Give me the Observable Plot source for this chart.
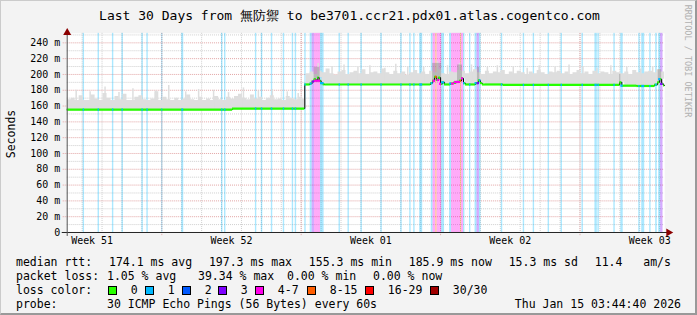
<!DOCTYPE html>
<html><head><meta charset="utf-8">
<script src="https://cdn.jsdelivr.net/npm/d3@7"></script>
<script src="https://cdn.jsdelivr.net/npm/@observablehq/plot@0.6"></script>
<style>
html,body{margin:0;padding:0;background:#fff}
#wrap{position:relative;width:697px;height:315px;background:#f3f3f3;box-sizing:border-box;border-style:solid;border-width:1px 2px 2px 1px;border-color:#cbcbcb #999 #999 #cbcbcb;overflow:hidden;font-family:"DejaVu Sans Mono",monospace;color:#000}
#wrap svg{position:absolute;left:-1px;top:-1px}
.t{position:absolute;white-space:pre;font-size:11.5px;line-height:14px}
#title{position:absolute;left:0;top:6px;width:697px;text-align:center;font-size:13px;white-space:pre}
#ylab{position:absolute;left:10px;top:133px;font-size:11.5px;transform:translate(-50%,-50%) rotate(-90deg);white-space:pre}
#rrd{position:absolute;left:687px;top:60px;font-size:8.5px;color:#b0b0b0;transform:translate(-50%,-50%) rotate(90deg);white-space:pre}
#l1{position:absolute;left:15px;width:655px;top:254px;display:flex;justify-content:space-between;font-size:11.5px;white-space:pre}
.sw{display:inline-block;width:7px;height:7px;border:1px solid #000;vertical-align:-1px}
</style></head>
<body><div id="wrap">
<div id="title">Last 30 Days from 無防禦 to be3701.ccr21.pdx01.atlas.cogentco.com</div>
<div id="ylab">Seconds</div>
<div id="rrd">RRDTOOL / TOBI OETIKER</div>
</div>
<script>
// ---- data (x in days from left edge of the 30-day window, y in ms) ----
const lossColors = ["#26ff00","#00b8ff","#0059ff","#7e00ff","#ff00ea","#ff5e00","#ff0000","#a10000"];
const lossLabels = ["0","1","2","3","4-7","8-15","16-29","30/30"];
const weekLabels = ["Week 51","Week 52","Week 01","Week 02","Week 03"];
const weekCenters = [1.25, 8.25, 15.25, 22.25, 29.25];
const weekStarts = [4.75, 11.75, 18.75, 25.75];
const dayLines = d3.range(0.75, 30, 1);
const yMajor = [20,40,60,80,100,120,140,160,180,200,220,240];
const yMinor = [10,30,50,70,90,110,130,150,170,190,210,230,250];
const yTicks = [0,20,40,60,80,100,120,140,160,180,200,220,240];

// packet-loss stripes: start day, width (days), loss class index
const bandStart = [0.80,1.55,2.27,2.75,3.75,4.00,4.75,5.75,7.75,7.90,9.45,9.75,10.25,10.85,11.30,11.45,11.93,
  12.20,12.30,12.42,12.72,13.65,14.10,14.75,15.75,16.75,17.20,17.40,17.70,
  18.28,18.37,18.50,18.58,18.70,18.80,19.20,19.30,19.45,19.75,19.80,19.90,20.20,20.48,20.58,20.70,
  21.80,22.90,23.40,24.15,24.80,25.85,26.50,26.65,27.45,27.80,28.70,28.85,29.25,29.55,29.70,29.80];
const bandWidth = [0.07,0.07,0.07,0.07,0.07,0.07,0.05,0.10,0.07,0.07,0.07,0.07,0.07,0.07,0.07,0.07,0.07,
  0.10,0.12,0.30,0.18,0.07,0.07,0.07,0.07,0.07,0.07,0.07,0.15,
  0.09,0.13,0.08,0.12,0.10,0.15,0.10,0.15,0.30,0.05,0.10,0.07,0.07,0.10,0.12,0.08,
  0.07,0.07,0.07,0.07,0.07,0.07,0.12,0.07,0.07,0.12,0.07,0.15,0.07,0.08,0.10,0.12];
const bandLevel = [1,1,1,1,1,1,1,1,1,1,1,1,1,1,1,1,1,
  1,3,4,1,1,1,1,1,1,1,1,1,
  1,4,5,4,4,1,1,4,4,5,4,1,1,1,3,1,
  1,1,1,1,1,1,1,1,1,1,1,1,1,1,1,3];

// median rtt breakpoints (step-after)
const medDay = [0,8.30,11.93,12.20,12.30,12.40,12.50,12.58,12.65,12.75,12.85,12.95,
  18.25,18.35,18.45,18.55,18.65,18.75,18.85,18.95,19.25,19.40,19.55,19.70,19.80,19.90,20.00,
  20.50,20.65,20.75,20.85,21.90,27.75,27.85,28.60,29.50,29.65,29.75,29.85,29.95,30];
const medVal = [155.5,156.8,187.3,188.5,191,194,192,196,192,189,187.5,187.3,
  189,192,197,193,196,188,190,187.3,188.5,189.5,190.5,192,195,189,187.3,
  189,192.5,189,187.3,186.8,190,185.8,185.4,187,190,194,188,186,186];

// smoke (upper envelope of the individual pings), one value per 0.2 day
const smokeTop = [
 171,173,168,176,170,169,177,172,170,179,173,169,175,171,178,170,168,174,176,171,
 169,172,181,170,174,171,168,173,170,172,177,171,169,174,170,172,168,175,171,169,
 174,172,175,178,173,171,177,172,174,169,173,176,171,172,170,175,173,171,174,172,
 204,206,203,207,205,210,204,202,206,208,203,205,207,204,209,203,205,206,204,210,
 205,203,207,204,206,202,205,208,204,206,203,207,205,209,204,203,206,205,208,207,
 204,206,209,205,203,207,204,206,205,208,203,206,204,207,205,203,206,204,208,205,
 203,206,205,207,204,206,203,205,208,204,206,203,207,204,206,205,203,207,205,204,
 206,203,208,205,204,206,207,205,209,206,208];
const smokeBase = [167,199]; // dense part of the smoke before / after the jump
// thin single-interval spikes of the slowest pings
const spikeDay = [0.45,1.15,1.9,2.6,3.3,4.45,5.1,5.95,6.6,7.35,8.1,8.85,9.6,10.3,11.05,11.6,
  12.6,13.3,13.9,14.6,15.2,15.95,16.5,17.1,17.9,18.6,19.1,19.7,20.3,21.1,21.6,22.4,23.1,23.7,24.5,25.2,25.9,26.6,27.3,28.1,28.8,29.4];
const spikeTop = [180,178,184,177,182,179,186,178,181,180,177,183,179,181,178,176,
  214,210,212,209,211,208,213,210,209,216,211,214,212,209,211,210,208,211,209,212,210,208,211,209,207,210];
// darker smoke around the latency bursts
const darkStart = [12.40,18.35,19.60,20.60,27.74,29.68];
const darkEnd   = [12.70,18.80,19.85,20.72,27.80,29.85];
const darkTop   = [209,214,212,209,200,206];

// ---- derived tables ----
const medAt = t => { let v = medVal[0]; for (let i = 0; i < medDay.length; i++) if (medDay[i] <= t) v = medVal[i]; return v; };
const bands = bandStart.map((s,i) => ({x1: s, x2: s + bandWidth[i], level: bandLevel[i]}));
const med = medDay.map((d,i) => ({day: d, v: medVal[i]}));
const medSegs = medDay.slice(0,-1).map((d,i) => ({x1: d, x2: medDay[i+1], v: medVal[i]}));
const smoke = smokeTop.map((v,i) => ({day: i*0.2, lo: medAt(i*0.2), hi: Math.max(v - 3, i*0.2 < 11.93 ? smokeBase[0] : smokeBase[1])}));
smoke.push({day: 30, lo: medAt(30), hi: smoke[smoke.length-1].hi});
const spikes = spikeDay.map((d,i) => ({day: d, lo: medAt(d), hi: spikeTop[i]}));
const dark = darkStart.map((s,i) => ({x1: s, x2: darkEnd[i], y1: medAt(s), y2: darkTop[i]}));

const red = "#e2a4a4", gray = "#cfcfcf";
const chart = Plot.plot({
  width: 697, height: 315,
  marginLeft: 67, marginRight: 30, marginTop: 33, marginBottom: 82,
  x: {domain: [0, 30], axis: null},
  y: {domain: [0, 252], axis: null},
  style: {background: "transparent", fontFamily: "DejaVu Sans Mono, monospace", fontSize: "10px", color: "#000"},
  marks: [
    Plot.frame({fill: "#fff", stroke: null}),
    Plot.ruleY(yMinor, {stroke: gray, strokeDasharray: "1,1"}),
    Plot.ruleX(dayLines, {stroke: gray, strokeDasharray: "1,1"}),
    Plot.ruleY(yMajor, {stroke: red, strokeDasharray: "1,1", x1: -0.2, x2: 30}),
    Plot.ruleX(weekStarts, {stroke: red, strokeDasharray: "1,1", y1: -4, y2: 252}),
    Plot.rect(bands, {x1: "x1", x2: "x2", y1: 0, y2: 252, fill: d => lossColors[d.level], fillOpacity: 0.33}),
    Plot.areaY(smoke, {x: "day", y1: "lo", y2: "hi", curve: "step-after", fill: "#dedede"}),
    Plot.ruleX(spikes, {x: "day", y1: "lo", y2: "hi", stroke: "#dedede", strokeWidth: 1.5}),
    Plot.rect(dark, {x1: "x1", x2: "x2", y1: "y1", y2: "y2", fill: "#8a8a8a", fillOpacity: 0.45}),
    Plot.line(med, {x: "day", y: "v", curve: "step-after", stroke: "#000", strokeWidth: 1}),
    Plot.ruleY(medSegs, {x1: "x1", x2: "x2", y: "v", stroke: lossColors[0], strokeWidth: 2.2}),
    Plot.ruleY(bands, {x1: "x1", x2: "x2", y: d => medAt((d.x1 + d.x2) / 2), stroke: d => lossColors[d.level], strokeWidth: 2.2}),
    Plot.axisY({ticks: yTicks, tickFormat: d => d === 0 ? "0" : `${d} m`, tickSize: 0, tickPadding: 7, label: null, fontSize: 10}),
    Plot.axisX({ticks: weekCenters, tickFormat: (d) => weekLabels[weekCenters.indexOf(d)], tickSize: 0, tickPadding: 4, label: null, fontSize: 10}),
    Plot.ruleY([0], {x1: -0.25, x2: 30.15, stroke: "#222"}),
    Plot.ruleX([0], {y1: -5, y2: 253, stroke: "#555"}),
    Plot.dot([{x: 0, y: 253}], {x: "x", y: "y", symbol: "triangle", r: 3, fill: "#8b0000", stroke: null}),
    Plot.dot([{x: 30.2, y: 0}], {x: "x", y: "y", symbol: "triangle", rotate: 90, r: 3, fill: "#8b0000", stroke: null})
  ]
});
const wrap = document.getElementById("wrap");
wrap.insertBefore(chart, wrap.firstChild);

// ---- legend text ----
const rtt = ["median rtt:","174.1 ms avg","197.3 ms max","155.3 ms min","185.9 ms now","15.3 ms sd","11.4   am/s"];
const loss = ["packet loss:","1.05 % avg","39.34 % max","0.00 % min","0.00 % now"];
const lossX = [15, 106, 197, 286, 372];
const probe = ["probe:","30 ICMP Echo Pings (56 Bytes) every 60s","Thu Jan 15 03:44:40 2026"];
const l1 = document.createElement("div"); l1.id = "l1";
rtt.forEach(s => { const sp = document.createElement("span"); sp.textContent = s; l1.appendChild(sp); });
wrap.appendChild(l1);
const put = (s, x, y, right) => { const e = document.createElement("div"); e.className = "t"; e.textContent = s; e.style.top = y + "px"; if (right) e.style.right = x + "px"; else e.style.left = x + "px"; wrap.appendChild(e); return e; };
loss.forEach((s,i) => put(s, lossX[i], 268));
put("loss color:", 15, 282);
const swX = [107, 144, 181, 217, 254, 306, 364, 429];
lossLabels.forEach((s,i) => {
  const e = put("", swX[i], 282);
  e.innerHTML = `<span class="sw" style="background:${lossColors[i]}"></span>  ${s}`;
});
put(probe[0], 15, 296); put(probe[1], 106, 296); put(probe[2], 14, 296, true);
</script>
</body></html>
